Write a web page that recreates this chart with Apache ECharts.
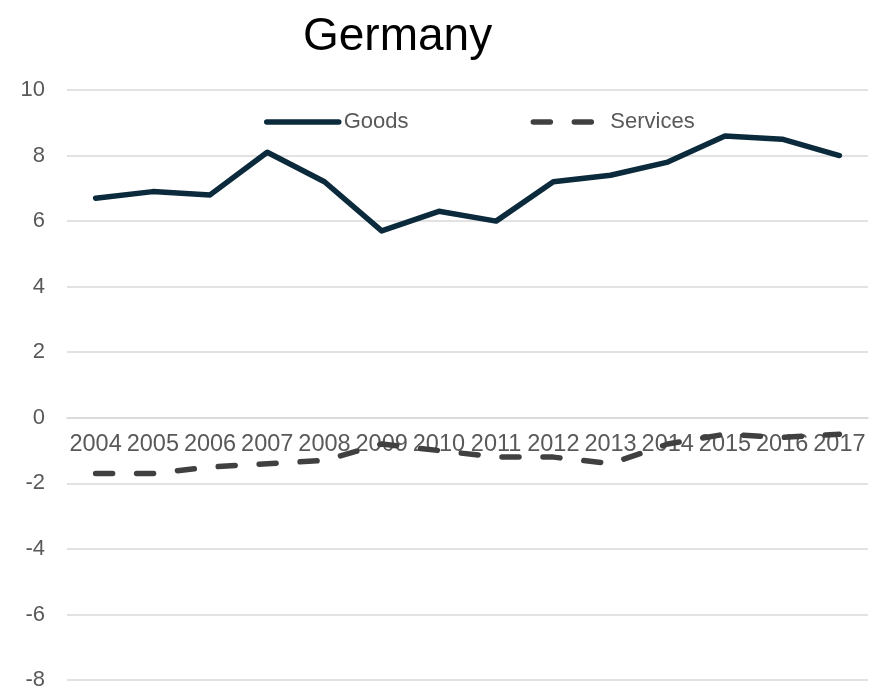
<!DOCTYPE html>
<html><head><meta charset="utf-8">
<script src="https://cdn.jsdelivr.net/npm/echarts@6/dist/echarts.min.js"></script>
<style>html,body{margin:0;padding:0;background:#fff}#c{width:880px;height:689px}</style>
</head><body><div id="c"></div>
<script>
const years = ['2004','2005','2006','2007','2008','2009','2010','2011','2012','2013','2014','2015','2016','2017'];
const goods = [6.7, 6.9, 6.8, 8.1, 7.2, 5.7, 6.3, 6.0, 7.2, 7.4, 7.8, 8.6, 8.5, 8.0];
const services = [-1.7, -1.7, -1.5, -1.4, -1.3, -0.8, -1.0, -1.2, -1.2, -1.4, -0.8, -0.5, -0.6, -0.5];
const yTicks = {min: -8, max: 10, interval: 2};

const font = 'Liberation Sans, Arial, sans-serif';
const gridTop = 90, gridBottom = 9, H = 689;
const plotH = H - gridTop - gridBottom;
const zeroOffset = -plotH * (0 - yTicks.min) / (yTicks.max - yTicks.min);

const chart = echarts.init(document.getElementById('c'));
chart.setOption({
  animation: false,
  title: {text: 'Germany', left: 298, top: 9, textStyle: {fontFamily: font, fontSize: 46, fontWeight: 'normal', color: '#000'}},
  legend: {
    left: 259, top: 106, itemWidth: 72, itemHeight: 14, itemGap: 122,
    itemStyle: {opacity: 0},
    lineStyle: {width: 5.5, cap: 'round'},
    textStyle: {fontFamily: font, fontSize: 22, color: '#595959'},
    data: ['Goods', 'Services']
  },
  grid: {left: 67, right: 12, top: gridTop, bottom: gridBottom, containLabel: false, outerBoundsMode: 'none'},
  xAxis: {
    type: 'category', data: years, boundaryGap: true, position: 'bottom', offset: zeroOffset,
    axisLine: {onZero: false, lineStyle: {color: '#d9d9d9', width: 1.5}},
    axisTick: {show: false},
    axisLabel: {fontFamily: font, fontSize: 23.5, color: '#595959', margin: 15, interval: 0}
  },
  yAxis: {
    type: 'value', min: yTicks.min, max: yTicks.max, interval: yTicks.interval,
    axisLine: {show: false}, axisTick: {show: false},
    axisLabel: {fontFamily: font, fontSize: 22, color: '#595959', margin: 22},
    splitLine: {lineStyle: {color: '#d9d9d9', width: 1.5}}
  },
  series: [
    {name: 'Goods', type: 'line', data: goods, symbol: 'none', showSymbol: false,
     itemStyle: {color: '#0b2a3c'},
     lineStyle: {color: '#0b2a3c', width: 5.5, cap: 'round', join: 'round'}},
    {name: 'Services', type: 'line', data: services, symbol: 'none', showSymbol: false,
     itemStyle: {color: '#404040'},
     lineStyle: {color: '#404040', width: 5.5, type: [17, 24], cap: 'round', join: 'round'}}
  ]
});
</script></body></html>
